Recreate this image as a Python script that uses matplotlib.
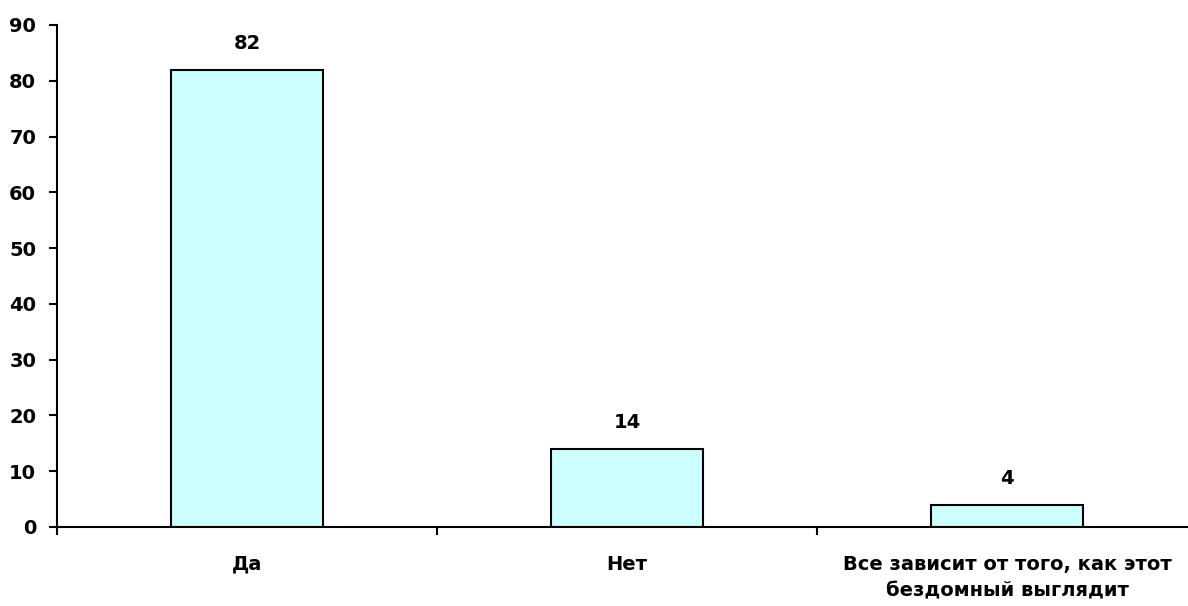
import matplotlib
matplotlib.use("Agg")
import matplotlib.pyplot as plt

categories = ["Да", "Нет", "Все зависит от того, как этот\nбездомный выглядит"]
values = [82, 14, 4]
yticks = [0, 10, 20, 30, 40, 50, 60, 70, 80, 90]

plt.rcParams['font.family'] = ['DejaVu Sans']
plt.rcParams['font.weight'] = 'bold'

fig = plt.figure(figsize=(11.88, 6.06), dpi=100)
ax = fig.add_axes([57/1188, (606-527)/606, 1140/1188, (527-25)/606])

x = list(range(len(categories)))
bars = ax.bar(x, values, width=0.4, color='#CCFFFF', edgecolor='black', linewidth=1.5, zorder=2)
for xi, v in zip(x, values):
    ax.annotate(str(v), (xi, v), xytext=(0, 12), textcoords='offset points',
                ha='center', va='bottom', fontsize=14, fontweight='bold')

ax.set_xlim(-0.5, 2.5)
ax.set_ylim(0, 90)
ax.set_yticks(yticks)
ax.set_yticklabels([str(t) for t in yticks], fontsize=14, fontweight='bold')

ax.set_xticks(x)
ax.set_xticklabels(categories, fontsize=14, fontweight='bold', linespacing=1.5, va='top')
ax.tick_params(axis='x', which='major', length=0, pad=20)
ax.set_xticks([-0.5, 0.5, 1.5, 2.5], minor=True)
ax.tick_params(axis='x', which='minor', length=6, width=1.5, direction='out')
ax.tick_params(axis='y', length=6, width=1.5, direction='out', pad=9)

for s in ['top', 'right']:
    ax.spines[s].set_visible(False)
for s in ['left', 'bottom']:
    ax.spines[s].set_linewidth(1.5)

fig.savefig("out.png", dpi=100)
